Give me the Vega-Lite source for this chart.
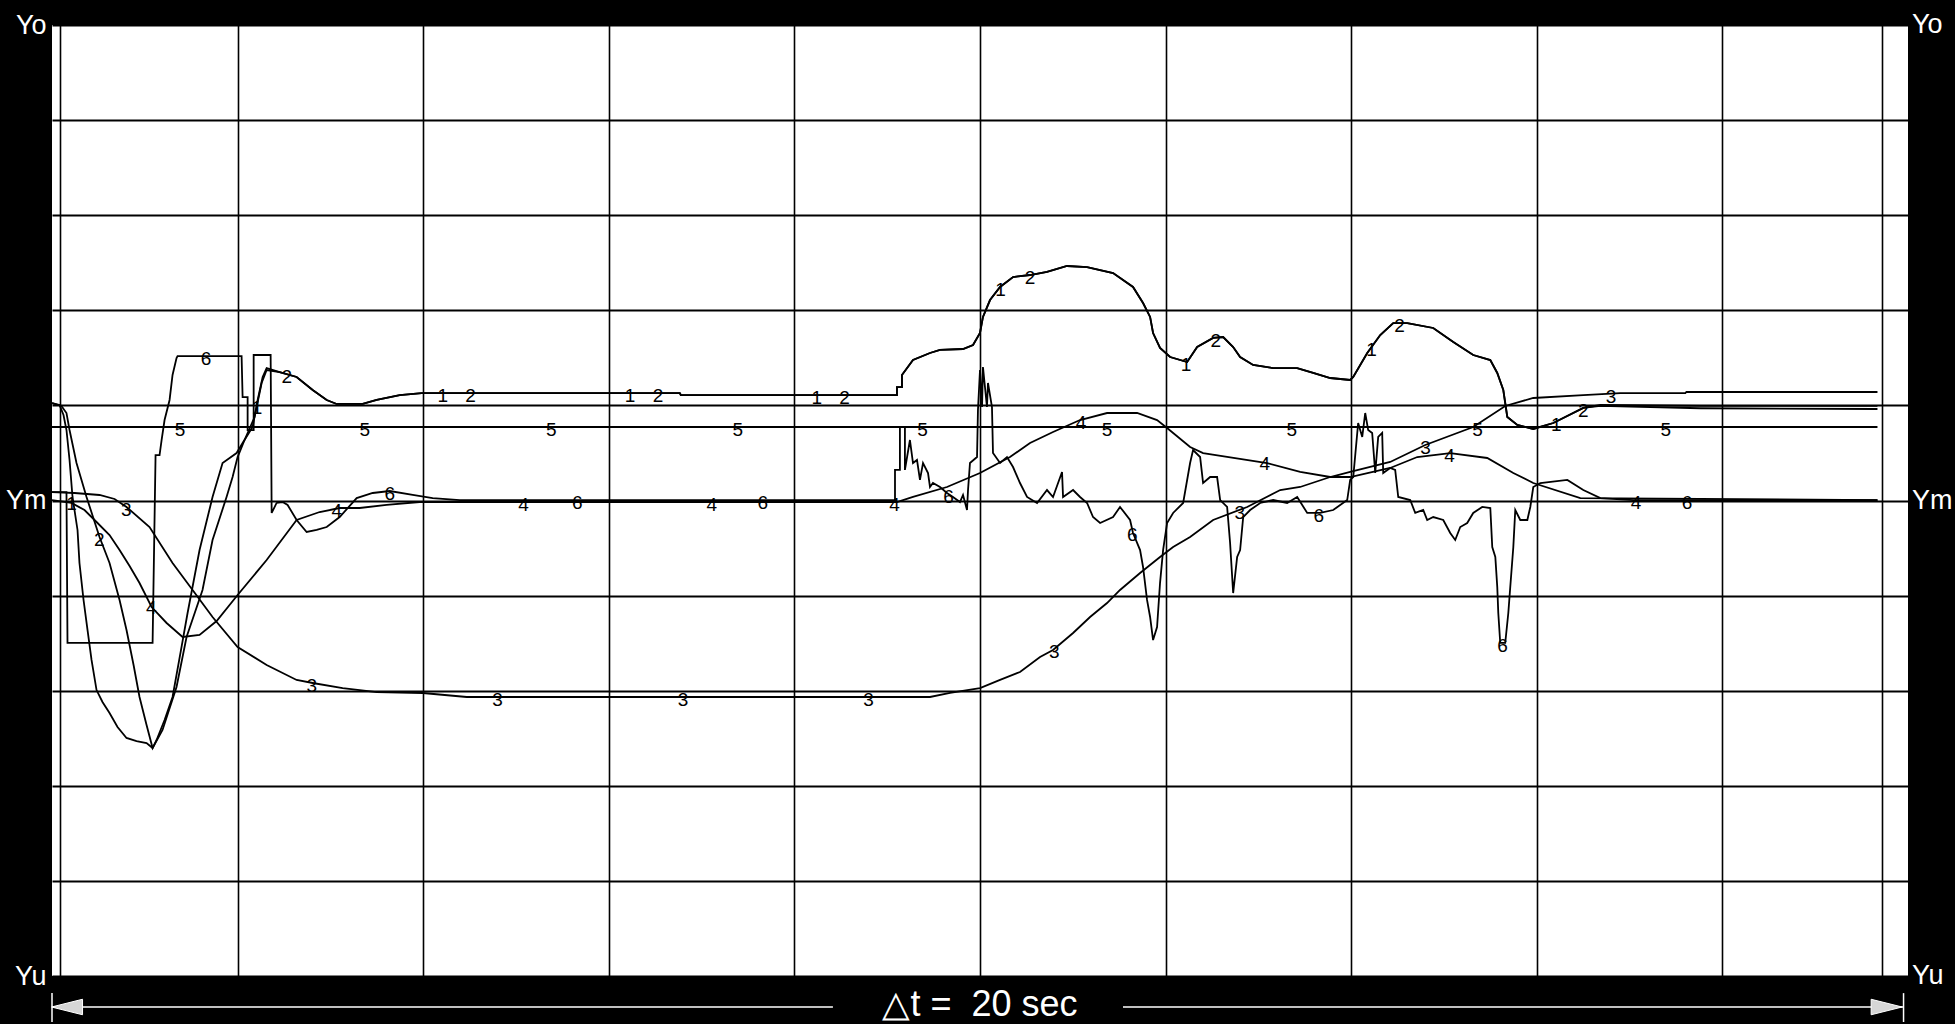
{
  "$schema": "https://vega.github.io/schema/vega-lite/v6.json",
  "width": 1856,
  "height": 951,
  "autosize": {"type": "none"},
  "padding": {"left": 52, "top": 25, "right": 47, "bottom": 48},
  "background": "#000000",
  "view": {"fill": "#ffffff", "stroke": null},
  "config": {"text": {"font": "Liberation Sans"}},
  "datasets": {
    "curves": [
      {"s":"1","t":0,"v":1.025},{"s":"1","t":0.081,"v":1.004},{"s":"1","t":0.124,"v":0.899},{"s":"1","t":0.156,"v":0.741},{"s":"1","t":0.189,"v":0.426},{"s":"1","t":0.221,"v":0.037},{"s":"1","t":0.275,"v":-0.31},{"s":"1","t":0.296,"v":-0.657},{"s":"1","t":0.34,"v":-1.046},{"s":"1","t":0.383,"v":-1.362},{"s":"1","t":0.426,"v":-1.677},{"s":"1","t":0.48,"v":-1.993},{"s":"1","t":0.544,"v":-2.119},{"s":"1","t":0.62,"v":-2.234},{"s":"1","t":0.706,"v":-2.382},{"s":"1","t":0.803,"v":-2.497},{"s":"1","t":0.911,"v":-2.529},{"s":"1","t":1.019,"v":-2.55},{"s":"1","t":1.084,"v":-2.603},{"s":"1","t":1.127,"v":-2.518},{"s":"1","t":1.213,"v":-2.308},{"s":"1","t":1.299,"v":-2.066},{"s":"1","t":1.396,"v":-1.54},{"s":"1","t":1.461,"v":-1.183},{"s":"1","t":1.59,"v":-0.521},{"s":"1","t":1.73,"v":0.037},{"s":"1","t":1.838,"v":0.394},{"s":"1","t":1.989,"v":0.499},{"s":"1","t":2.054,"v":0.605},{"s":"1","t":2.162,"v":0.773},{"s":"1","t":2.216,"v":1.057},{"s":"1","t":2.27,"v":1.299},{"s":"1","t":2.313,"v":1.393},{"s":"1","t":2.453,"v":1.351},
      {"s":"1","t":2.636,"v":1.299},{"s":"1","t":2.809,"v":1.162},{"s":"1","t":2.96,"v":1.057},{"s":"1","t":3.067,"v":1.015},{"s":"1","t":3.348,"v":1.015},{"s":"1","t":3.499,"v":1.057},{"s":"1","t":3.747,"v":1.109},{"s":"1","t":3.984,"v":1.13},{"s":"1","t":6.765,"v":1.13},{"s":"1","t":6.776,"v":1.109},{"s":"1","t":9.105,"v":1.109},{"s":"1","t":9.105,"v":1.193},{"s":"1","t":9.159,"v":1.193},{"s":"1","t":9.159,"v":1.32},{"s":"1","t":9.278,"v":1.477},{"s":"1","t":9.461,"v":1.551},{"s":"1","t":9.569,"v":1.583},{"s":"1","t":9.817,"v":1.593},{"s":"1","t":9.925,"v":1.635},{"s":"1","t":10.0,"v":1.761},{"s":"1","t":10.032,"v":1.93},{"s":"1","t":10.108,"v":2.108},{"s":"1","t":10.216,"v":2.245},{"s":"1","t":10.356,"v":2.35},{"s":"1","t":10.539,"v":2.371},{"s":"1","t":10.722,"v":2.403},{"s":"1","t":10.938,"v":2.466},{"s":"1","t":11.154,"v":2.455},{"s":"1","t":11.434,"v":2.392},{"s":"1","t":11.649,"v":2.245},{"s":"1","t":11.757,"v":2.077},{"s":"1","t":11.833,"v":1.93},{"s":"1","t":11.865,"v":1.761},{"s":"1","t":11.94,"v":1.604},{"s":"1","t":12.049,"v":1.509},{"s":"1","t":12.232,"v":1.456},{"s":"1","t":12.34,"v":1.614},{"s":"1","t":12.512,"v":1.709},{"s":"1","t":12.62,"v":1.719},{"s":"1","t":12.728,"v":1.614},{"s":"1","t":12.803,"v":1.509},{"s":"1","t":12.943,"v":1.425},{"s":"1","t":13.159,"v":1.393},{"s":"1","t":13.418,"v":1.393},{"s":"1","t":13.59,"v":1.341},{"s":"1","t":13.774,"v":1.288},{"s":"1","t":13.989,"v":1.267},{"s":"1","t":14.022,"v":1.299},{"s":"1","t":14.173,"v":1.551},{"s":"1","t":14.313,"v":1.74},{"s":"1","t":14.453,"v":1.866},{"s":"1","t":14.604,"v":1.866},{"s":"1","t":14.884,"v":1.814},{"s":"1","t":15.1,"v":1.667},{"s":"1","t":15.315,"v":1.53},{"s":"1","t":15.499,"v":1.477},{"s":"1","t":15.574,"v":1.341},{"s":"1","t":15.639,"v":1.162},{"s":"1","t":15.682,"v":0.878},{"s":"1","t":15.79,"v":0.794},{"s":"1","t":15.962,"v":0.752},{"s":"1","t":16.178,"v":0.815},{"s":"1","t":16.501,"v":0.973},{"s":"1","t":16.685,"v":1.004},{"s":"1","t":17.763,"v":0.994},{"s":"1","t":19.671,"v":0.994},

      {"s":"2","t":0,"v":1.025},{"s":"2","t":0.102,"v":0.994},{"s":"2","t":0.156,"v":0.92},{"s":"2","t":0.189,"v":0.741},{"s":"2","t":0.264,"v":0.394},{"s":"2","t":0.372,"v":0.037},{"s":"2","t":0.512,"v":-0.384},{"s":"2","t":0.62,"v":-0.657},{"s":"2","t":0.728,"v":-1.046},{"s":"2","t":0.803,"v":-1.362},{"s":"2","t":0.879,"v":-1.73},{"s":"2","t":0.943,"v":-2.066},{"s":"2","t":1.019,"v":-2.361},{"s":"2","t":1.084,"v":-2.603},{"s":"2","t":1.191,"v":-2.413},{"s":"2","t":1.342,"v":-1.961},{"s":"2","t":1.45,"v":-1.435},{"s":"2","t":1.622,"v":-0.941},{"s":"2","t":1.73,"v":-0.415},{"s":"2","t":1.881,"v":0.037},{"s":"2","t":1.946,"v":0.247},{"s":"2","t":2.0,"v":0.457},{"s":"2","t":2.075,"v":0.636},{"s":"2","t":2.183,"v":0.878},{"s":"2","t":2.259,"v":1.236},{"s":"2","t":2.313,"v":1.372},{"s":"2","t":2.453,"v":1.351},
      {"s":"2","t":2.636,"v":1.299},{"s":"2","t":2.809,"v":1.162},{"s":"2","t":2.96,"v":1.057},{"s":"2","t":3.067,"v":1.015},{"s":"2","t":3.348,"v":1.015},{"s":"2","t":3.499,"v":1.057},{"s":"2","t":3.747,"v":1.109},{"s":"2","t":3.984,"v":1.13},{"s":"2","t":6.765,"v":1.13},{"s":"2","t":6.776,"v":1.109},{"s":"2","t":9.105,"v":1.109},{"s":"2","t":9.105,"v":1.193},{"s":"2","t":9.159,"v":1.193},{"s":"2","t":9.159,"v":1.32},{"s":"2","t":9.278,"v":1.477},{"s":"2","t":9.461,"v":1.551},{"s":"2","t":9.569,"v":1.583},{"s":"2","t":9.817,"v":1.593},{"s":"2","t":9.925,"v":1.635},{"s":"2","t":10.0,"v":1.761},{"s":"2","t":10.032,"v":1.93},{"s":"2","t":10.108,"v":2.108},{"s":"2","t":10.216,"v":2.245},{"s":"2","t":10.356,"v":2.35},{"s":"2","t":10.539,"v":2.371},{"s":"2","t":10.722,"v":2.403},{"s":"2","t":10.938,"v":2.466},{"s":"2","t":11.154,"v":2.455},{"s":"2","t":11.434,"v":2.392},{"s":"2","t":11.649,"v":2.245},{"s":"2","t":11.757,"v":2.077},{"s":"2","t":11.833,"v":1.93},{"s":"2","t":11.865,"v":1.761},{"s":"2","t":11.94,"v":1.604},{"s":"2","t":12.049,"v":1.509},{"s":"2","t":12.232,"v":1.456},{"s":"2","t":12.34,"v":1.614},{"s":"2","t":12.512,"v":1.709},{"s":"2","t":12.62,"v":1.719},{"s":"2","t":12.728,"v":1.614},{"s":"2","t":12.803,"v":1.509},{"s":"2","t":12.943,"v":1.425},{"s":"2","t":13.159,"v":1.393},{"s":"2","t":13.418,"v":1.393},{"s":"2","t":13.59,"v":1.341},{"s":"2","t":13.774,"v":1.288},{"s":"2","t":13.989,"v":1.267},{"s":"2","t":14.022,"v":1.299},{"s":"2","t":14.173,"v":1.551},{"s":"2","t":14.313,"v":1.74},{"s":"2","t":14.453,"v":1.866},{"s":"2","t":14.604,"v":1.866},{"s":"2","t":14.884,"v":1.814},{"s":"2","t":15.1,"v":1.667},{"s":"2","t":15.315,"v":1.53},{"s":"2","t":15.499,"v":1.477},{"s":"2","t":15.574,"v":1.341},{"s":"2","t":15.639,"v":1.162},{"s":"2","t":15.682,"v":0.878},{"s":"2","t":15.79,"v":0.794},{"s":"2","t":15.962,"v":0.752},{"s":"2","t":16.178,"v":0.815},{"s":"2","t":16.501,"v":0.973},{"s":"2","t":16.685,"v":0.994},{"s":"2","t":17.763,"v":0.97},{"s":"2","t":19.671,"v":0.962},

      {"s":"3","t":0,"v":0.089},{"s":"3","t":0.243,"v":0.079},{"s":"3","t":0.512,"v":0.058},{"s":"3","t":0.674,"v":0.016},{"s":"3","t":0.803,"v":-0.068},{"s":"3","t":1.051,"v":-0.279},{"s":"3","t":1.299,"v":-0.657},{"s":"3","t":1.515,"v":-0.941},{"s":"3","t":1.73,"v":-1.225},{"s":"3","t":2.0,"v":-1.54},{"s":"3","t":2.313,"v":-1.73},{"s":"3","t":2.636,"v":-1.887},{"s":"3","t":2.809,"v":-1.919},{"s":"3","t":3.132,"v":-1.972},{"s":"3","t":3.499,"v":-2.014},{"s":"3","t":3.995,"v":-2.024},{"s":"3","t":4.469,"v":-2.066},{"s":"3","t":9.461,"v":-2.066},{"s":"3","t":9.677,"v":-2.024},{"s":"3","t":10.0,"v":-1.972},{"s":"3","t":10.216,"v":-1.887},{"s":"3","t":10.431,"v":-1.803},{"s":"3","t":10.647,"v":-1.646},{"s":"3","t":10.787,"v":-1.572},{"s":"3","t":11.003,"v":-1.393},{"s":"3","t":11.186,"v":-1.225},{"s":"3","t":11.369,"v":-1.078},{"s":"3","t":11.509,"v":-0.941},{"s":"3","t":11.725,"v":-0.762},{"s":"3","t":11.94,"v":-0.594},{"s":"3","t":12.081,"v":-0.489},{"s":"3","t":12.264,"v":-0.384},{"s":"3","t":12.512,"v":-0.205},{"s":"3","t":12.879,"v":-0.068},{"s":"3","t":13.235,"v":0.11},{"s":"3","t":13.45,"v":0.142},{"s":"3","t":13.774,"v":0.247},{"s":"3","t":13.989,"v":0.3},{"s":"3","t":14.42,"v":0.405},{"s":"3","t":14.798,"v":0.584},{"s":"3","t":15.315,"v":0.773},{"s":"3","t":15.66,"v":0.994},{"s":"3","t":15.962,"v":1.078},{"s":"3","t":16.501,"v":1.109},{"s":"3","t":16.9,"v":1.13},{"s":"3","t":17.601,"v":1.13},{"s":"3","t":17.612,"v":1.141},{"s":"3","t":19.671,"v":1.141},

      {"s":"4","t":0,"v":0.005},{"s":"4","t":0.21,"v":-0.026},{"s":"4","t":0.35,"v":-0.1},{"s":"4","t":0.48,"v":-0.226},{"s":"4","t":0.62,"v":-0.363},{"s":"4","t":0.728,"v":-0.521},{"s":"4","t":0.836,"v":-0.689},{"s":"4","t":0.943,"v":-0.868},{"s":"4","t":1.073,"v":-1.12},{"s":"4","t":1.235,"v":-1.288},{"s":"4","t":1.407,"v":-1.435},{"s":"4","t":1.59,"v":-1.414},{"s":"4","t":1.774,"v":-1.267},{"s":"4","t":2.0,"v":-0.994},{"s":"4","t":2.313,"v":-0.626},{"s":"4","t":2.636,"v":-0.205},{"s":"4","t":2.884,"v":-0.121},{"s":"4","t":3.1,"v":-0.079},{"s":"4","t":3.315,"v":-0.079},{"s":"4","t":3.606,"v":-0.047},{"s":"4","t":3.962,"v":-0.016},{"s":"4","t":9.105,"v":-0.016},{"s":"4","t":9.278,"v":0.037},{"s":"4","t":9.644,"v":0.142},{"s":"4","t":10.0,"v":0.289},{"s":"4","t":10.323,"v":0.457},{"s":"4","t":10.539,"v":0.605},{"s":"4","t":10.787,"v":0.72},{"s":"4","t":11.078,"v":0.846},{"s":"4","t":11.369,"v":0.92},{"s":"4","t":11.693,"v":0.92},{"s":"4","t":11.908,"v":0.846},{"s":"4","t":12.016,"v":0.762},{"s":"4","t":12.264,"v":0.563},{"s":"4","t":12.404,"v":0.499},{"s":"4","t":13.094,"v":0.394},{"s":"4","t":13.45,"v":0.3},{"s":"4","t":13.774,"v":0.247},{"s":"4","t":13.989,"v":0.247},{"s":"4","t":14.42,"v":0.342},{"s":"4","t":14.712,"v":0.457},{"s":"4","t":15.067,"v":0.499},{"s":"4","t":15.466,"v":0.447},{"s":"4","t":15.747,"v":0.289},{"s":"4","t":15.962,"v":0.184},{"s":"4","t":16.469,"v":0.026},{"s":"4","t":19.671,"v":0.005},

      {"s":"5","t":0,"v":0.773},{"s":"5","t":19.671,"v":0.773},

      {"s":"6","t":0,"v":0.089},{"s":"6","t":0.156,"v":0.089},{"s":"6","t":0.167,"v":-1.498},{"s":"6","t":1.084,"v":-1.498},{"s":"6","t":1.116,"v":0.478},{"s":"6","t":1.159,"v":0.478},{"s":"6","t":1.181,"v":0.636},{"s":"6","t":1.213,"v":0.846},{"s":"6","t":1.267,"v":1.057},{"s":"6","t":1.299,"v":1.32},{"s":"6","t":1.342,"v":1.498},{"s":"6","t":1.353,"v":1.519},{"s":"6","t":2.043,"v":1.519},{"s":"6","t":2.054,"v":1.088},{"s":"6","t":2.108,"v":1.088},{"s":"6","t":2.108,"v":0.741},{"s":"6","t":2.173,"v":0.741},{"s":"6","t":2.173,"v":1.53},{"s":"6","t":2.356,"v":1.53},{"s":"6","t":2.367,"v":-0.131},{"s":"6","t":2.42,"v":-0.026},{"s":"6","t":2.485,"v":-0.016},{"s":"6","t":2.539,"v":-0.047},{"s":"6","t":2.636,"v":-0.205},{"s":"6","t":2.744,"v":-0.331},{"s":"6","t":2.852,"v":-0.31},{"s":"6","t":2.96,"v":-0.279},{"s":"6","t":3.1,"v":-0.174},{"s":"6","t":3.283,"v":0.026},{"s":"6","t":3.456,"v":0.079},{"s":"6","t":3.639,"v":0.1},{"s":"6","t":3.887,"v":0.058},{"s":"6","t":4.102,"v":0.026},{"s":"6","t":4.394,"v":0.005},{"s":"6","t":9.084,"v":0.005},{"s":"6","t":9.084,"v":0.321},{"s":"6","t":9.137,"v":0.321},{"s":"6","t":9.137,"v":0.773},{"s":"6","t":9.191,"v":0.773},{"s":"6","t":9.191,"v":0.321},{"s":"6","t":9.245,"v":0.636},{"s":"6","t":9.278,"v":0.394},{"s":"6","t":9.321,"v":0.426},{"s":"6","t":9.353,"v":0.216},{"s":"6","t":9.386,"v":0.394},{"s":"6","t":9.44,"v":0.289},{"s":"6","t":9.461,"v":0.142},{"s":"6","t":9.493,"v":0.184},{"s":"6","t":9.569,"v":0.142},{"s":"6","t":9.644,"v":0.079},{"s":"6","t":9.709,"v":0.037},{"s":"6","t":9.784,"v":-0.016},{"s":"6","t":9.817,"v":0.058},{"s":"6","t":9.86,"v":-0.1},{"s":"6","t":9.871,"v":0.11},{"s":"6","t":9.892,"v":0.394},{"s":"6","t":9.968,"v":0.457},{"s":"6","t":9.978,"v":0.952},{"s":"6","t":10.0,"v":1.372},{"s":"6","t":10.022,"v":0.983},{"s":"6","t":10.032,"v":1.404},{"s":"6","t":10.075,"v":0.983},{"s":"6","t":10.086,"v":1.236},{"s":"6","t":10.129,"v":0.983},{"s":"6","t":10.14,"v":0.499},{"s":"6","t":10.216,"v":0.394},{"s":"6","t":10.291,"v":0.457},{"s":"6","t":10.356,"v":0.352},{"s":"6","t":10.431,"v":0.184},{"s":"6","t":10.507,"v":0.037},{"s":"6","t":10.615,"v":-0.026},{"s":"6","t":10.722,"v":0.11},{"s":"6","t":10.787,"v":0.037},{"s":"6","t":10.884,"v":0.3},{"s":"6","t":10.895,"v":0.037},{"s":"6","t":11.003,"v":0.11},{"s":"6","t":11.078,"v":0.037},{"s":"6","t":11.154,"v":-0.026},{"s":"6","t":11.218,"v":-0.174},{"s":"6","t":11.294,"v":-0.237},{"s":"6","t":11.434,"v":-0.174},{"s":"6","t":11.509,"v":-0.068},{"s":"6","t":11.617,"v":-0.205},{"s":"6","t":11.649,"v":-0.342},{"s":"6","t":11.725,"v":-0.521},{"s":"6","t":11.757,"v":-0.699},{"s":"6","t":11.8,"v":-1.046},{"s":"6","t":11.833,"v":-1.225},{"s":"6","t":11.865,"v":-1.467},{"s":"6","t":11.908,"v":-1.33},{"s":"6","t":11.94,"v":-0.868},{"s":"6","t":11.973,"v":-0.521},{"s":"6","t":12.016,"v":-0.237},{"s":"6","t":12.081,"v":-0.131},{"s":"6","t":12.189,"v":-0.026},{"s":"6","t":12.264,"v":0.394},{"s":"6","t":12.296,"v":0.531},{"s":"6","t":12.372,"v":0.457},{"s":"6","t":12.404,"v":0.184},{"s":"6","t":12.48,"v":0.247},{"s":"6","t":12.555,"v":0.247},{"s":"6","t":12.588,"v":0.005},{"s":"6","t":12.663,"v":-0.068},{"s":"6","t":12.695,"v":-0.447},{"s":"6","t":12.728,"v":-0.973},{"s":"6","t":12.771,"v":-0.594},{"s":"6","t":12.803,"v":-0.521},{"s":"6","t":12.836,"v":-0.174},{"s":"6","t":12.911,"v":-0.1},{"s":"6","t":13.019,"v":-0.026},{"s":"6","t":13.159,"v":0.005},{"s":"6","t":13.31,"v":-0.026},{"s":"6","t":13.418,"v":0.037},{"s":"6","t":13.526,"v":-0.131},{"s":"6","t":13.666,"v":-0.131},{"s":"6","t":13.806,"v":-0.1},{"s":"6","t":13.957,"v":0.005},{"s":"6","t":13.989,"v":0.216},{"s":"6","t":14.022,"v":0.247},{"s":"6","t":14.075,"v":0.815},{"s":"6","t":14.119,"v":0.668},{"s":"6","t":14.151,"v":0.92},{"s":"6","t":14.183,"v":0.741},{"s":"6","t":14.226,"v":0.71},{"s":"6","t":14.259,"v":0.289},{"s":"6","t":14.291,"v":0.668},{"s":"6","t":14.334,"v":0.71},{"s":"6","t":14.345,"v":0.289},{"s":"6","t":14.42,"v":0.342},{"s":"6","t":14.474,"v":0.321},{"s":"6","t":14.507,"v":0.037},{"s":"6","t":14.636,"v":0.005},{"s":"6","t":14.69,"v":-0.131},{"s":"6","t":14.776,"v":-0.1},{"s":"6","t":14.819,"v":-0.205},{"s":"6","t":14.884,"v":-0.174},{"s":"6","t":14.992,"v":-0.205},{"s":"6","t":15.067,"v":-0.342},{"s":"6","t":15.121,"v":-0.415},{"s":"6","t":15.175,"v":-0.279},{"s":"6","t":15.25,"v":-0.237},{"s":"6","t":15.315,"v":-0.131},{"s":"6","t":15.412,"v":-0.068},{"s":"6","t":15.499,"v":-0.079},{"s":"6","t":15.52,"v":-0.489},{"s":"6","t":15.553,"v":-0.594},{"s":"6","t":15.574,"v":-0.91},{"s":"6","t":15.585,"v":-1.183},{"s":"6","t":15.606,"v":-1.498},{"s":"6","t":15.66,"v":-1.498},{"s":"6","t":15.693,"v":-1.183},{"s":"6","t":15.714,"v":-0.91},{"s":"6","t":15.747,"v":-0.489},{"s":"6","t":15.768,"v":-0.1},{"s":"6","t":15.822,"v":-0.205},{"s":"6","t":15.898,"v":-0.205},{"s":"6","t":15.93,"v":-0.068},{"s":"6","t":15.962,"v":0.142},{"s":"6","t":16.038,"v":0.184},{"s":"6","t":16.329,"v":0.216},{"s":"6","t":16.501,"v":0.11},{"s":"6","t":16.685,"v":0.026},{"s":"6","t":17.04,"v":0.005},{"s":"6","t":19.671,"v":0.005}
    ],
    "labels": [
      {"s":"1","t":0.21,"v":0.0},{"s":"1","t":2.21,"v":1.0},{"s":"1","t":4.21,"v":1.13},{"s":"1","t":6.23,"v":1.13},{"s":"1","t":8.24,"v":1.109},{"s":"1","t":10.22,"v":2.245},{"s":"1","t":12.22,"v":1.46},{"s":"1","t":14.22,"v":1.61},{"s":"1","t":16.21,"v":0.83},
      {"s":"2","t":0.51,"v":-0.38},{"s":"2","t":2.53,"v":1.33},{"s":"2","t":4.51,"v":1.13},{"s":"2","t":6.53,"v":1.13},{"s":"2","t":8.54,"v":1.109},{"s":"2","t":10.54,"v":2.371},{"s":"2","t":12.54,"v":1.71},{"s":"2","t":14.52,"v":1.866},{"s":"2","t":16.5,"v":0.973},
      {"s":"3","t":0.8,"v":-0.066},{"s":"3","t":2.8,"v":-1.917},{"s":"3","t":4.8,"v":-2.066},{"s":"3","t":6.8,"v":-2.066},{"s":"3","t":8.8,"v":-2.066},{"s":"3","t":10.8,"v":-1.56},{"s":"3","t":12.8,"v":-0.097},{"s":"3","t":14.8,"v":0.585},{"s":"3","t":16.8,"v":1.125},
      {"s":"4","t":1.07,"v":-1.1},{"s":"4","t":3.07,"v":-0.08},{"s":"4","t":5.08,"v":-0.016},{"s":"4","t":7.11,"v":-0.016},{"s":"4","t":9.08,"v":-0.016},{"s":"4","t":11.09,"v":0.85},{"s":"4","t":13.07,"v":0.42},{"s":"4","t":15.06,"v":0.499},{"s":"4","t":17.07,"v":0.005},
      {"s":"5","t":1.38,"v":0.773},{"s":"5","t":3.37,"v":0.773},{"s":"5","t":5.38,"v":0.773},{"s":"5","t":7.39,"v":0.773},{"s":"5","t":9.38,"v":0.773},{"s":"5","t":11.37,"v":0.773},{"s":"5","t":13.36,"v":0.773},{"s":"5","t":15.36,"v":0.773},{"s":"5","t":17.39,"v":0.773},
      {"s":"6","t":1.66,"v":1.519},{"s":"6","t":3.64,"v":0.1},{"s":"6","t":5.66,"v":0.005},{"s":"6","t":7.66,"v":0.005},{"s":"6","t":9.66,"v":0.07},{"s":"6","t":11.64,"v":-0.33},{"s":"6","t":13.65,"v":-0.131},{"s":"6","t":15.63,"v":-1.498},{"s":"6","t":17.62,"v":0.005}
    ],
    "scaleBar": [{"t": 0, "t2": 8.415, "v": -5.326}, {"t": 11.541, "t2": 19.952, "v": -5.326}],
    "barEnds": [{"t": 0, "v": -5.18, "v2": -5.484}, {"t": 19.952, "v": -5.18, "v2": -5.484}],
    "arrowLeft": [{"t": 0.162, "v": -5.326}],
    "arrowRight": [{"t": 19.77, "v": -5.326}],
    "caption": [{"t": 10, "v": -5.3, "label": "△t = \u00a020 sec"}],
    "levelNames": [{"t": 20, "v": 5, "label": "Yo"}, {"t": 20, "v": 0, "label": "Ym"}, {"t": 20, "v": -5, "label": "Yu"}]
  },
  "encoding": {
    "x": {
      "field": "t", "type": "quantitative",
      "scale": {"domain": [0, 20], "nice": false, "zero": false},
      "axis": {"values": [0.081, 2, 4, 6, 8, 10, 12, 14, 16, 18, 19.725], "grid": true, "gridColor": "#000000", "gridWidth": 1.6, "gridOpacity": 1, "labels": false, "ticks": false, "domain": false, "title": null}
    },
    "y": {
      "field": "v", "type": "quantitative",
      "scale": {"domain": [-5, 5], "nice": false, "zero": false},
      "axis": {
        "values": [-5, -4, -3, -2, -1, 0, 1, 2, 3, 4, 5],
        "grid": true, "gridColor": "#000000", "gridWidth": 2, "gridOpacity": 1,
        "ticks": false, "domain": false, "title": null,
        "labelExpr": "datum.value === 5 ? 'Yo' : datum.value === 0 ? 'Ym' : datum.value === -5 ? 'Yu' : ''",
        "labelColor": "#ffffff", "labelFont": "Liberation Sans",
        "labelFontSize": 27, "labelPadding": 6, "labelOverlap": false, "labelFlush": false,
        "labelBaseline": "middle", "labelAlign": "right"
      }
    }
  },
  "layer": [
    {
      "data": {"name": "curves"},
      "mark": {"type": "line", "color": "#000000", "strokeWidth": 1.8, "order": null},
      "encoding": {"detail": {"field": "s", "type": "nominal"}}
    },
    {
      "data": {"name": "labels"},
      "mark": {"type": "text", "fontSize": 19, "baseline": "middle", "align": "center", "dy": 3, "color": "#000000"},
      "encoding": {"text": {"field": "s", "type": "nominal"}}
    },
    {
      "data": {"name": "scaleBar"},
      "mark": {"type": "rule", "color": "#ffffff", "strokeWidth": 1.5, "clip": false},
      "encoding": {"x2": {"field": "t2"}}
    },
    {
      "data": {"name": "barEnds"},
      "mark": {"type": "rule", "color": "#ffffff", "strokeWidth": 1.5, "clip": false},
      "encoding": {"y2": {"field": "v2"}}
    },
    {
      "data": {"name": "arrowLeft"},
      "mark": {"type": "point", "shape": "M-1,0L1,-0.5L1,0.5Z", "size": 961, "filled": true, "fill": "#d6d6d6", "stroke": "#ffffff", "strokeWidth": 1, "opacity": 1, "clip": false}
    },
    {
      "data": {"name": "arrowRight"},
      "mark": {"type": "point", "shape": "M1,0L-1,-0.5L-1,0.5Z", "size": 961, "filled": true, "fill": "#d6d6d6", "stroke": "#ffffff", "strokeWidth": 1, "opacity": 1, "clip": false}
    },
    {
      "data": {"name": "caption"},
      "mark": {"type": "text", "color": "#ffffff", "fontSize": 36, "baseline": "middle", "align": "center", "font": "Liberation Sans", "clip": false},
      "encoding": {"text": {"field": "label", "type": "nominal"}}
    },
    {
      "data": {"name": "levelNames"},
      "mark": {"type": "text", "color": "#ffffff", "fontSize": 27, "baseline": "middle", "align": "left", "dx": 4, "font": "Liberation Sans", "clip": false},
      "encoding": {"text": {"field": "label", "type": "nominal"}}
    }
  ]
}
